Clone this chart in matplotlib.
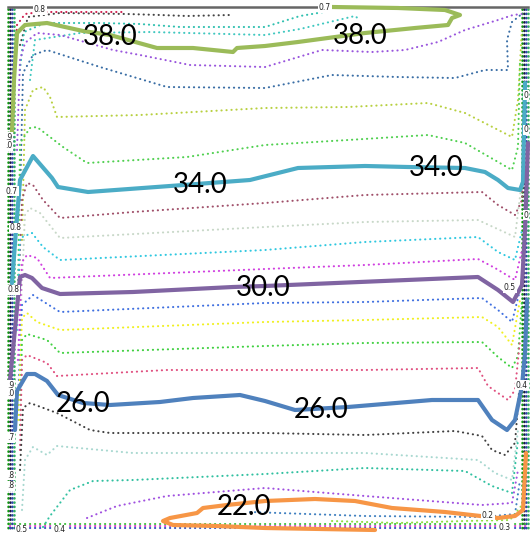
import matplotlib
matplotlib.use("Agg")
import matplotlib.pyplot as plt

# isotherm levels drawn as heavy lines, with where their labels sit
levels = ["38.0", "34.0", "30.0", "26.0", "22.0"]
level_colors = ["#9bbb59", "#4bacc6", "#8064a2", "#4f81bd", "#f79646"]
label_spots = [
    [(110, 37), (360, 36)],
    [(200, 185), (436, 168)],
    [(263, 288)],
    [(83, 404), (321, 410)],
    [(244, 507)],
]

# traced isotherms (x, y) in cavity pixels, y measured downward
iso_38 = [(12, 132), (14, 80), (17, 33), (25, 25), (47, 23), (83, 31), (110, 35),
          (157, 48), (193, 48), (233, 52), (237, 48), (265, 46), (298, 42),
          (365, 33), (415, 28), (448, 25), (452, 18), (460, 15), (445, 10),
          (398, 8), (332, 7)]
iso_34 = [(12, 283), (16, 230), (20, 180), (33, 156), (52, 178), (58, 187),
          (88, 192), (170, 186), (250, 180), (298, 168), (365, 166), (408, 167),
          (465, 168), (485, 172), (498, 180), (508, 188), (520, 190), (523, 182),
          (525, 83)]
iso_30 = [(10, 380), (12, 360), (20, 277), (25, 275), (32, 278), (42, 288),
          (60, 294), (133, 292), (233, 287), (265, 286), (478, 277), (498, 290),
          (513, 302), (522, 285), (525, 230), (528, 143)]
iso_26 = [(15, 430), (17, 391), (27, 374), (35, 374), (47, 381), (58, 395),
          (83, 403), (110, 405), (160, 402), (193, 398), (240, 395), (265, 401),
          (295, 410), (348, 407), (432, 400), (478, 400), (492, 420), (507, 430),
          (515, 420), (522, 386), (525, 353), (527, 300)]
iso_22 = [(375, 530), (265, 528), (217, 526), (173, 525), (163, 521), (170, 518),
          (197, 513), (203, 508), (227, 505), (265, 501), (315, 499), (355, 501),
          (392, 508), (445, 512), (498, 518), (515, 516), (523, 510), (526, 453)]
iso_lines = [iso_38, iso_34, iso_30, iso_26, iso_22]

# intermediate isotherms, dotted
dot_red = [(15, 60), (17, 25), (25, 14), (40, 12), (122, 12)]
dot_gray_top = [(20, 45), (28, 17), (60, 13), (127, 14), (160, 15), (187, 16),
                (230, 15)]
dot_teal_a = [(20, 70), (24, 32), (45, 23), (100, 23), (140, 24), (180, 27),
              (265, 27), (300, 16), (330, 11)]
dot_teal_b = [(30, 80), (35, 40), (80, 33), (150, 32), (265, 35), (300, 29),
              (355, 16), (360, 20)]
dot_purple_top = [(17, 150), (20, 60), (25, 43), (37, 33), (60, 35), (113, 50),
                  (140, 55), (190, 65), (265, 67), (322, 50), (372, 52), (405, 50),
                  (438, 42), (465, 30), (498, 20), (513, 15), (522, 14)]
dot_navy_top = [(20, 200), (23, 73), (33, 55), (47, 50), (100, 67), (167, 87),
                (265, 88), (332, 75), (398, 77), (455, 78), (485, 70), (508, 70),
                (507, 40), (512, 22), (523, 13)]
dot_ygreen = [(22, 240), (25, 110), (33, 90), (43, 87), (50, 97), (57, 117),
              (140, 115), (265, 108), (348, 107), (428, 103), (465, 113),
              (512, 137), (518, 100), (522, 27)]
dot_green_top = [(18, 290), (20, 143), (30, 128), (37, 127), (63, 147), (87, 163),
                 (187, 157), (265, 145), (348, 140), (428, 135), (465, 143),
                 (512, 170), (518, 147), (520, 60)]
dot_rose = [(18, 300), (22, 200), (27, 183), (33, 185), (43, 200), (60, 218),
            (133, 212), (265, 203), (365, 195), (482, 192), (498, 205), (515, 215),
            (522, 200), (524, 120)]
dot_pale = [(20, 330), (25, 215), (30, 208), (40, 213), (60, 238), (265, 227),
            (365, 222), (478, 220), (515, 237), (522, 180)]
dot_cyan = [(17, 330), (20, 238), (32, 233), (43, 247), (60, 260), (265, 250),
            (365, 242), (478, 237), (498, 252), (515, 260), (522, 230)]
dot_magenta = [(18, 360), (22, 262), (27, 255), (37, 258), (50, 278), (265, 269),
               (365, 265), (478, 259), (495, 268), (515, 280), (522, 250)]
dot_blue = [(18, 400), (22, 305), (33, 295), (60, 312), (265, 303), (365, 302),
            (482, 298), (498, 310), (512, 322), (520, 290)]
dot_yellow = [(18, 420), (22, 318), (27, 313), (37, 322), (60, 330), (265, 322),
              (365, 320), (482, 317), (498, 327), (512, 345), (520, 300)]
dot_green_mid = [(20, 430), (22, 340), (27, 334), (47, 340), (60, 353), (265, 346),
                 (365, 343), (482, 342), (498, 357), (512, 368), (518, 356),
                 (522, 300)]
dot_pink = [(20, 450), (22, 360), (27, 355), (47, 363), (57, 376), (167, 370),
            (265, 370), (365, 370), (478, 368), (488, 386), (508, 400), (515, 390),
            (520, 340)]
dot_gray = [(20, 470), (23, 408), (30, 403), (57, 413), (90, 430), (110, 433),
            (265, 433), (365, 435), (455, 431), (482, 436), (492, 450), (505, 455),
            (515, 443), (520, 380)]
dot_pale_low = [(22, 510), (25, 460), (33, 447), (47, 455), (57, 446), (133, 453),
                (265, 453), (365, 453), (478, 460), (495, 473), (512, 480),
                (518, 430)]
dot_teal_low = [(43, 527), (50, 516), (70, 490), (93, 481), (133, 480), (265, 474),
                (365, 468), (465, 471), (492, 486), (512, 493), (518, 440)]
dot_purple_low = [(87, 518), (117, 506), (167, 496), (265, 488), (365, 496),
                  (482, 505), (512, 503), (518, 470)]
dot_blue_low = [(250, 512), (365, 516), (482, 517), (515, 514), (520, 480)]
dot_green_low = [(332, 521), (398, 523), (465, 521), (510, 520), (522, 505)]

dotted_lines = [dot_red, dot_gray_top, dot_teal_a, dot_teal_b, dot_purple_top,
                dot_navy_top, dot_ygreen, dot_green_top, dot_rose, dot_pale,
                dot_cyan, dot_magenta, dot_blue, dot_yellow, dot_green_mid,
                dot_pink, dot_gray, dot_pale_low, dot_teal_low, dot_purple_low,
                dot_blue_low, dot_green_low]
dotted_colors = ["#d02050", "#444444", "#30c0b0", "#40c8c0", "#9955dd",
                 "#3a6ea5", "#b8d040", "#50d050", "#a0506a", "#c8d8c8",
                 "#30c8e0", "#d040e0", "#4070e0", "#f0f020", "#40d040",
                 "#e05080", "#404040", "#a8d8d0", "#30c0a0", "#a050e0",
                 "#4080c0", "#90e040"]

# packed isotherms hugging the walls
wall_x_left = [8, 10, 12, 14]
wall_x_right = [522, 524, 526, 528]
wall_colors = ["#109a10", "#1a1a40", "#3040b0", "#30b060"]

# small inline level labels of the fine contours
small_labels = ["0.8", "0.7", ".9", ".0", "0.7", "0.8", "0.8", ".9", ".0", ".7",
                ".8", ".8", "0.5", "0.4", "0.5", "0.4", "0.3", "0.2", "0", "0", "0"]
small_spots = [(40, 10), (325, 8), (9, 137), (9, 146), (12, 191), (16, 228),
               (13, 290), (11, 385), (11, 393), (11, 438), (11, 475), (11, 486),
               (22, 530), (60, 530), (510, 288), (522, 385), (505, 527), (488, 515),
               (526, 95), (526, 130), (526, 215)]

fig = plt.figure(figsize=(5.30, 5.33), dpi=100)
ax = fig.add_axes([0, 0, 1, 1])
ax.set_xlim(0, 530)
ax.set_ylim(533, 0)
ax.axis("off")

dot_style = dict(linestyle=(0, (0.1, 2.3)), dash_capstyle="round", linewidth=1.5)
wall_style = dict(linestyle=(0, (0.1, 1.6)), dash_capstyle="round", linewidth=1.8)

for xw, xe, c in zip(wall_x_left, wall_x_right, wall_colors):
    ax.plot([xw, xw], [9, 528], color=c, **wall_style)
    ax.plot([xe, xe], [9, 528], color=c, **wall_style)
for yb, c in zip([524, 526, 528], ["#40c040", "#d040d0", "#3050c0"]):
    ax.plot([10, 527], [yb, yb], color=c, **dot_style)
ax.plot([8, 528], [7, 7], color="#666666", linewidth=1.8)

for pts, c in zip(dotted_lines, dotted_colors):
    xs, ys = zip(*pts)
    ax.plot(xs, ys, color=c, **dot_style)

for pts, c in zip(iso_lines, level_colors):
    xs, ys = zip(*pts)
    ax.plot(xs, ys, color=c, linewidth=3.0, solid_joinstyle="round",
            solid_capstyle="round")

for txt, (x, y) in zip(small_labels, small_spots):
    ax.text(x, y, txt, fontsize=5.5, color="#222222", ha="center", va="center",
            bbox=dict(boxstyle="square,pad=0.1", fc="white", ec="none"))

for lev, spots in zip(levels, label_spots):
    for x, y in spots:
        ax.text(x, y, lev, fontsize=20, family="Lato", color="black",
                ha="center", va="center")

fig.savefig("out.png", dpi=100)
